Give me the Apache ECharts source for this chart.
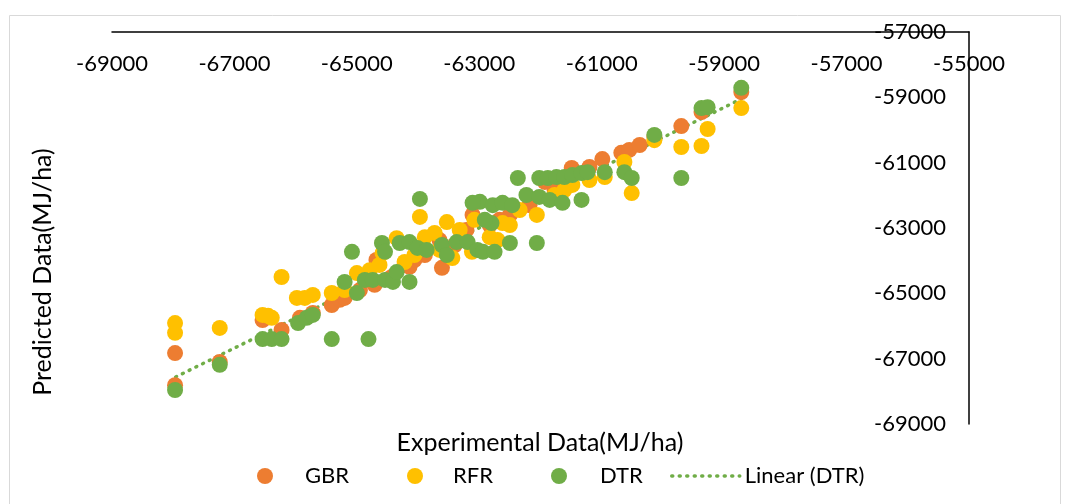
<!DOCTYPE html>
<html>
<head>
<meta charset="utf-8">
<script src="https://cdn.jsdelivr.net/npm/echarts@6/dist/echarts.min.js"></script>
<style>
  html, body { margin: 0; padding: 0; background: #fff; }
  #chart { width: 1065px; height: 504px; }
</style>
</head>
<body>
<div id="chart"></div>
<script>
// axis ranges (ticks every 2000)
var xTicks = [-69000, -67000, -65000, -63000, -61000, -59000, -57000, -55000];
var yTicks = [-69000, -67000, -65000, -63000, -61000, -59000, -57000];

// [experimental, predicted]
var gbrData = [
  [-67970, -66830], [-67970, -67810], [-67240, -67100], [-66540, -65820], [-66230, -66120],
  [-65930, -65750], [-65720, -65600], [-65410, -65360], [-65280, -65200], [-65200, -65140],
  [-64950, -64900], [-64710, -64740], [-64680, -63980], [-64430, -64500], [-64220, -64130],
  [-64140, -64190], [-64060, -63980], [-63890, -63830], [-63650, -63370], [-63610, -64220],
  [-63400, -63520], [-63210, -63060], [-63110, -62600], [-62830, -62910], [-62670, -62750],
  [-62500, -62600], [-62180, -62300], [-61930, -61590], [-61770, -61840], [-61610, -61680],
  [-61490, -61160], [-61200, -61130], [-60990, -60890], [-60680, -60700], [-60550, -60610],
  [-60380, -60460], [-60140, -60210], [-59700, -59880], [-59370, -59450], [-58720, -58840]
];
var rfrData = [
  [-67970, -65910], [-67970, -66210], [-67240, -66060], [-66540, -65660], [-66450, -65690],
  [-66390, -65750], [-66230, -64500], [-65980, -65140], [-65850, -65140], [-65720, -65050],
  [-65410, -64990], [-65200, -64900], [-65000, -64380], [-64790, -64290], [-64630, -64130],
  [-64580, -63770], [-64350, -63310], [-64220, -64040], [-64060, -63830], [-63970, -62660],
  [-63890, -63280], [-63730, -63150], [-63650, -63670], [-63530, -62820], [-63440, -63920],
  [-63320, -63060], [-63120, -63730], [-63080, -62750], [-62830, -63280], [-62700, -63370],
  [-62620, -62850], [-62500, -62910], [-62340, -62450], [-62060, -62600], [-61770, -61990],
  [-61610, -61840], [-61480, -61680], [-61200, -61530], [-60950, -61440], [-60630, -60980],
  [-60510, -61930], [-60140, -60310], [-59700, -60520], [-59370, -60490], [-59270, -59970],
  [-58720, -59330]
];
var dtrData = [
  [-67970, -67960], [-67240, -67190], [-66540, -66400], [-66390, -66400], [-66230, -66400],
  [-65960, -65910], [-65820, -65750], [-65720, -65660], [-65410, -66400], [-64810, -66400],
  [-65200, -64650], [-65000, -64990], [-64870, -64590], [-64740, -64590], [-64540, -64590],
  [-64410, -64650], [-64350, -64350], [-64140, -64650], [-65080, -63730], [-63970, -62110],
  [-64590, -63460], [-64540, -63730], [-64300, -63460], [-64140, -63430], [-64010, -63610],
  [-63860, -63670], [-63610, -63520], [-63530, -63830], [-63370, -63430], [-63190, -63430],
  [-63030, -63670], [-62990, -62200], [-62940, -63730], [-62750, -63730], [-62500, -63460],
  [-62060, -63460], [-62800, -62850], [-62910, -62750], [-63110, -62230], [-62780, -62300],
  [-62620, -62230], [-62460, -62300], [-62230, -61990], [-62020, -62050], [-61850, -62140],
  [-61640, -62230], [-61330, -62140], [-62370, -61470], [-62020, -61470], [-61880, -61470],
  [-61740, -61440], [-61610, -61440], [-61480, -61380], [-61330, -61320], [-61230, -61290],
  [-60950, -61290], [-60630, -61290], [-60510, -61470], [-60140, -60150], [-59700, -61470],
  [-59370, -59330], [-59270, -59300], [-58720, -58710]
];
// linear trendline of DTR, end points
var dtrTrend = [[-67960, -67560], [-58720, -59050]];

var font = 'Lato, "Open Sans", sans-serif';
var chart = echarts.init(document.getElementById('chart'));

function plain(v) { return String(v); }

var option = {
  animation: false,
  textStyle: { fontFamily: font },
  grid: { left: 112, right: 96, top: 32, bottom: 80 },
  xAxis: {
    type: 'value',
    position: 'top',
    min: xTicks[0], max: xTicks[xTicks.length - 1], interval: 2000,
    axisLine: { onZero: false, lineStyle: { color: '#000', width: 1.5 } },
    axisTick: { show: false },
    splitLine: { show: false },
    axisLabel: { inside: true, margin: 21, color: '#000', fontSize: 22, fontFamily: font, formatter: plain }
  },
  yAxis: {
    type: 'value',
    position: 'right',
    min: yTicks[0], max: yTicks[yTicks.length - 1], interval: 2000,
    axisLine: { show: true, onZero: false, lineStyle: { color: '#000', width: 1.5 } },
    axisTick: { show: false },
    splitLine: { show: false },
    axisLabel: { inside: true, margin: 23, color: '#000', fontSize: 22, fontFamily: font, formatter: plain }
  },
  legend: [
    { data: ['GBR'], left: 257, top: 465, padding: 0, icon: 'circle', itemWidth: 16, itemHeight: 16,
      textStyle: { fontSize: 22, color: '#000', padding: [0, 0, 0, 27] } },
    { data: ['RFR'], left: 407, top: 465, padding: 0, icon: 'circle', itemWidth: 16, itemHeight: 16,
      textStyle: { fontSize: 22, color: '#000', padding: [0, 0, 0, 25] } },
    { data: ['DTR'], left: 551, top: 465, padding: 0, icon: 'circle', itemWidth: 16, itemHeight: 16,
      textStyle: { fontSize: 22, color: '#000', padding: [0, 0, 0, 28] } },
    { data: ['Linear (DTR)'], left: 670, top: 465, padding: 0, itemWidth: 68, itemHeight: 16,
      itemStyle: { opacity: 0 },
      lineStyle: { color: '#70AD47', width: 3.5, type: [1, 6.5], cap: 'round' },
      textStyle: { fontSize: 22, color: '#000', padding: [0, 0, 0, 0] } }
  ],
  graphic: [
    { type: 'rect', left: 7, top: 13, silent: true,
      shape: { width: 1051, height: 500 },
      style: { fill: 'none', stroke: '#d9d9d9', lineWidth: 1 } },
    { type: 'text', x: 540, y: 443,
      style: { text: 'Experimental Data(MJ/ha)', font: '25px ' + font, fill: '#000',
               align: 'center', verticalAlign: 'middle' } },
    { type: 'text', x: 43, y: 272, rotation: Math.PI / 2,
      style: { text: 'Predicted Data(MJ/ha)', font: '25px ' + font, fill: '#000',
               align: 'center', verticalAlign: 'middle' } }
  ],
  series: [
    { name: 'GBR', type: 'scatter', symbolSize: 16, data: gbrData,
      itemStyle: { color: '#ED7D31', opacity: 1 } },
    { name: 'RFR', type: 'scatter', symbolSize: 16, data: rfrData,
      itemStyle: { color: '#FFC000', opacity: 1 } },
    { name: 'DTR', type: 'scatter', symbolSize: 16, data: dtrData,
      itemStyle: { color: '#70AD47', opacity: 1 } },
    { name: 'Linear (DTR)', type: 'line', data: dtrTrend, symbol: 'none', z: 1,
      itemStyle: { color: '#70AD47' },
      lineStyle: { color: '#70AD47', width: 3.5, type: [1, 6.5], cap: 'round' } }
  ]
};
chart.setOption(option);
</script>
</body>
</html>
